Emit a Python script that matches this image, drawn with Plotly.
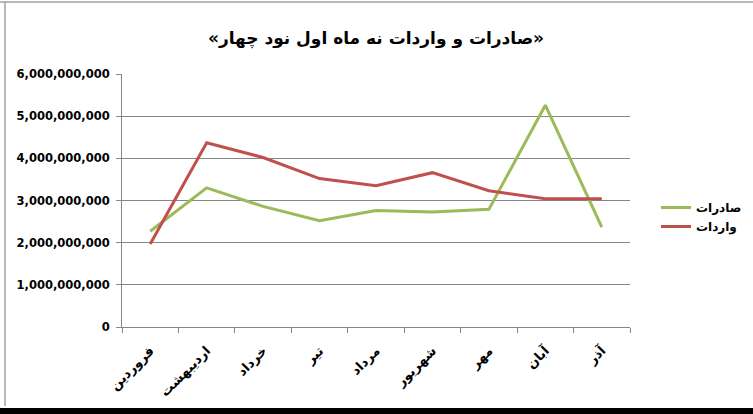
import plotly.graph_objects as go

months = ["فروردین", "اردیبهشت", "خرداد", "تیر", "مرداد", "شهریور", "مهر", "آبان", "آذر"]
exports = [2.27e9, 3.30e9, 2.86e9, 2.52e9, 2.76e9, 2.73e9, 2.79e9, 5.26e9, 2.37e9]
imports = [1.97e9, 4.37e9, 4.02e9, 3.52e9, 3.35e9, 3.66e9, 3.23e9, 3.04e9, 3.04e9]
series_names = ["صادرات", "واردات"]
title_text = "«صادرات و واردات نه ماه اول نود چهار»"

W, H = 753, 414
L, R, T, B = 122, 123, 74, 87
pw, ph = W - L - R, H - T - B


def px(x):
    return (x - L) / pw


def py(y):
    return (H - B - y) / ph


FONT = "DejaVu Sans"

fig = go.Figure()
fig.add_trace(go.Scatter(x=months, y=exports, name=series_names[0], mode="lines",
                         line=dict(color="#9BBB59", width=3)))
fig.add_trace(go.Scatter(x=months, y=imports, name=series_names[1], mode="lines",
                         line=dict(color="#C0504D", width=3)))

fig.update_layout(
    width=W, height=H,
    margin=dict(l=L, r=R, t=T, b=B, pad=0, autoexpand=False),
    paper_bgcolor="white", plot_bgcolor="white",
    title=dict(text=title_text, x=0.5, xref="paper", xanchor="center",
               y=1 - 38 / H, yanchor="middle",
               font=dict(family=FONT, size=17, color="black", weight="bold")),
    showlegend=True,
    legend=dict(x=px(656), y=py(193), xanchor="left", yanchor="top",
                font=dict(family=FONT, size=12, color="black", weight="bold"),
                bgcolor="rgba(0,0,0,0)", tracegroupgap=0),
    xaxis=dict(type="category", range=[-0.5, 8.5], tickson="boundaries",
               showgrid=False, showline=True, linecolor="#868686", linewidth=1,
               ticks="outside", ticklen=5, tickcolor="#868686", tickangle=-45,
               ticklabelstandoff=10,
               tickfont=dict(family=FONT, size=13, color="black", weight="bold"),
               fixedrange=True),
    yaxis=dict(range=[0, 6e9], dtick=1e9, tickformat=",", showgrid=True,
               gridcolor="#868686", gridwidth=1, showline=True, linecolor="#868686",
               linewidth=1, ticks="outside", ticklen=5, tickcolor="#868686",
               zeroline=False, ticklabelstandoff=4,
               tickfont=dict(family=FONT, size=11.5, color="black", weight="bold"),
               fixedrange=True),
    shapes=[
        dict(type="line", xref="paper", yref="paper", x0=px(5), x1=px(5), y0=py(2), y1=py(406),
             line=dict(color="#A0A0A0", width=1.5)),
        dict(type="line", xref="paper", yref="paper", x0=px(0), x1=px(W), y0=py(2), y1=py(2),
             line=dict(color="#A0A0A0", width=1.5)),
        dict(type="rect", xref="paper", yref="paper", x0=px(0), x1=px(W), y0=py(408), y1=py(H + 2),
             fillcolor="black", line=dict(width=0)),
    ],
)

fig.write_html("out.html", config={"displayModeBar": False},
               post_script="document.body.style.margin='0';document.body.style.overflow='hidden';")
